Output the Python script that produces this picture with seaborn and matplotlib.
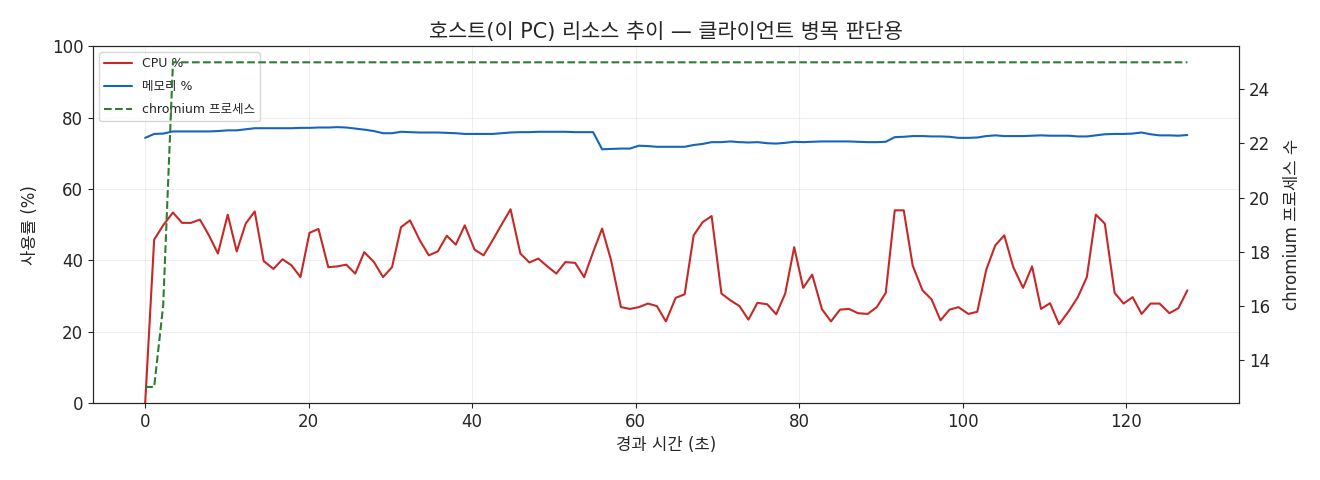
import matplotlib
matplotlib.use('Agg')
import matplotlib.pyplot as plt
import seaborn as sns
import pandas as pd

# 경과 시간 (초)
elapsed = [0.0, 1.1, 2.2, 3.4, 4.5, 5.6, 6.7, 7.8, 8.9, 10.1,
           11.2, 12.3, 13.4, 14.5, 15.7, 16.8, 17.9, 19.0, 20.1, 21.2,
           22.4, 23.5, 24.6, 25.7, 26.8, 28.0, 29.1, 30.2, 31.3, 32.4,
           33.6, 34.7, 35.8, 36.9, 38.0, 39.1, 40.3, 41.4, 42.5, 43.6,
           44.7, 45.9, 47.0, 48.1, 49.2, 50.3, 51.4, 52.6, 53.7, 54.8,
           55.9, 57.0, 58.2, 59.3, 60.4, 61.5, 62.6, 63.7, 64.9, 66.0,
           67.1, 68.2, 69.3, 70.5, 71.6, 72.7, 73.8, 74.9, 76.1, 77.2,
           78.3, 79.4, 80.5, 81.6, 82.8, 83.9, 85.0, 86.1, 87.2, 88.4,
           89.5, 90.6, 91.7, 92.8, 93.9, 95.1, 96.2, 97.3, 98.4, 99.5,
           100.7, 101.8, 102.9, 104.0, 105.1, 106.2, 107.4, 108.5, 109.6, 110.7,
           111.8, 113.0, 114.1, 115.2, 116.3, 117.4, 118.6, 119.7, 120.8, 121.9,
           123.0, 124.1, 125.3, 126.4, 127.5]

cpu = [0.0, 45.8, 49.8, 53.4, 50.5, 50.5, 51.4, 47.0, 41.9, 52.8,
       42.5, 50.3, 53.7, 39.8, 37.6, 40.3, 38.6, 35.3, 47.7, 48.8,
       38.1, 38.3, 38.8, 36.3, 42.3, 39.5, 35.3, 38.1, 49.3, 51.2,
       45.6, 41.4, 42.5, 46.9, 44.4, 49.8, 43.0, 41.4, 45.6, 50.0,
       54.3, 41.9, 39.4, 40.5, 38.3, 36.3, 39.5, 39.3, 35.3, 42.3,
       48.9, 40.0, 26.9, 26.4, 26.9, 27.9, 27.2, 22.9, 29.5, 30.5,
       47.0, 50.7, 52.4, 30.7, 28.8, 27.2, 23.4, 28.1, 27.7, 24.9,
       30.7, 43.7, 32.3, 36.0, 26.3, 22.9, 26.2, 26.4, 25.2, 25.0,
       26.9, 30.9, 54.0, 54.0, 38.5, 31.6, 29.1, 23.2, 26.2, 26.9,
       25.0, 25.6, 37.4, 44.2, 47.0, 38.1, 32.3, 38.3, 26.4, 28.0,
       22.1, 25.8, 29.7, 35.3, 52.8, 50.3, 30.9, 27.9, 29.7, 25.0,
       27.9, 27.9, 25.2, 26.6, 31.6]

mem = [74.3, 75.4, 75.5, 76.1, 76.1, 76.1, 76.1, 76.1, 76.2, 76.4,
       76.4, 76.7, 77.0, 77.0, 77.0, 77.0, 77.0, 77.1, 77.1, 77.2,
       77.2, 77.3, 77.2, 76.9, 76.6, 76.2, 75.6, 75.6, 76.0, 75.9,
       75.8, 75.8, 75.8, 75.7, 75.6, 75.4, 75.4, 75.4, 75.4, 75.6,
       75.8, 75.9, 75.9, 76.0, 76.0, 76.0, 76.0, 75.9, 75.9, 75.9,
       71.1, 71.2, 71.3, 71.3, 72.1, 72.0, 71.8, 71.8, 71.8, 71.8,
       72.3, 72.6, 73.1, 73.1, 73.3, 73.1, 73.0, 73.1, 72.8, 72.7,
       72.9, 73.2, 73.1, 73.2, 73.3, 73.3, 73.3, 73.3, 73.2, 73.1,
       73.1, 73.2, 74.5, 74.6, 74.8, 74.8, 74.7, 74.7, 74.6, 74.3,
       74.3, 74.4, 74.8, 75.0, 74.8, 74.8, 74.8, 74.9, 75.0, 74.9,
       74.9, 74.9, 74.7, 74.7, 75.0, 75.3, 75.4, 75.4, 75.5, 75.8,
       75.3, 75.0, 75.0, 74.9, 75.1]

chromium = [13, 13, 16] + [25] * 112

df = pd.DataFrame({'t': elapsed, 'cpu': cpu, 'mem': mem, 'proc': chromium})

sns.set_style('ticks')
plt.rcParams['font.family'] = ['DejaVu Sans', 'Noto Sans CJK KR']
plt.rcParams['axes.unicode_minus'] = False

fig, ax = plt.subplots(figsize=(13.2, 4.8), dpi=100)
fig.subplots_adjust(left=0.0705, right=0.939, top=0.904, bottom=0.16)

sns.lineplot(data=df, x='t', y='cpu', ax=ax, color='#c62828', linewidth=1.5, label='CPU %')
sns.lineplot(data=df, x='t', y='mem', ax=ax, color='#1565c0', linewidth=1.5, label='메모리 %')
ax.set_ylim(0, 100)
ax.set_xlabel('경과 시간 (초)', fontsize=12)
ax.set_ylabel('사용률 (%)', fontsize=12, labelpad=9)
ax.grid(True, alpha=0.3)
ax.tick_params(labelsize=12)

ax2 = ax.twinx()
sns.lineplot(data=df, x='t', y='proc', ax=ax2, color='#2e7d32', linewidth=1.5,
             linestyle='--', label='chromium 프로세스')
ax2.set_ylabel('chromium 프로세스 수', fontsize=12, labelpad=9)
ax2.tick_params(labelsize=12)

h1, l1 = ax.get_legend_handles_labels()
h2, l2 = ax2.get_legend_handles_labels()
ax2.get_legend().remove()
ax.legend(h1 + h2, l1 + l2, loc='upper left', fontsize=9,
          handlelength=2.2, labelspacing=0.8)

ax.set_title('호스트(이 PC) 리소스 추이 — 클라이언트 병목 판단용', fontsize=15)

fig.savefig('out.png', dpi=100)
